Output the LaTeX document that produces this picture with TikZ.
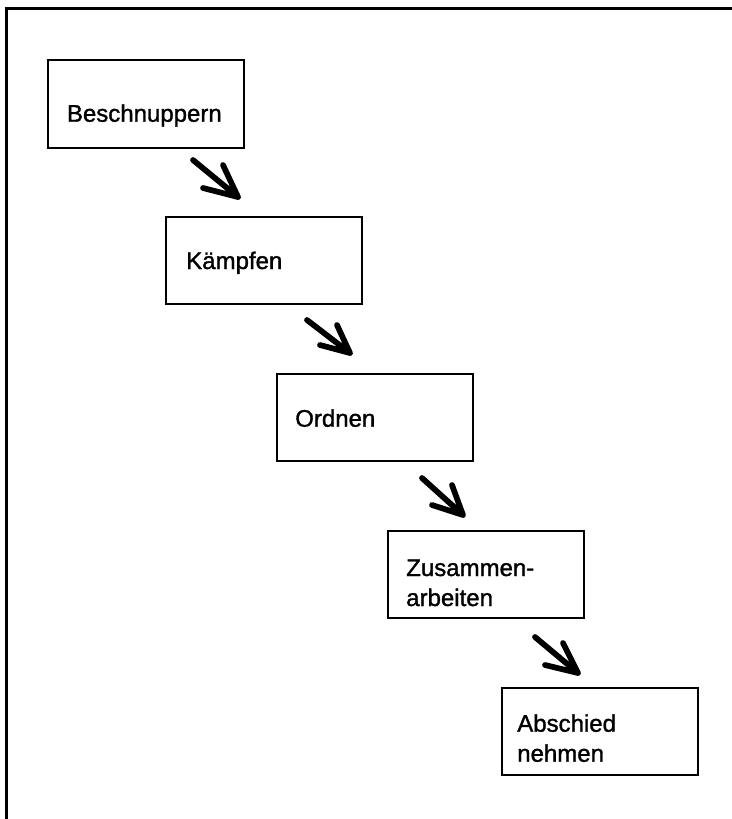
\documentclass[tikz,border=0pt]{standalone}
\usepackage{fontspec}
\setmainfont{Liberation Sans}
\newfontfamily\phasefont{Liberation Sans}[FakeBold=1.3]

\begin{document}
\begin{tikzpicture}[x=0.75pt,y=-0.75pt,
    phase/.style ={draw, line width=1.5pt, minimum width=147pt, minimum height=65.5pt, anchor=north west, inner sep=0pt},
    label/.style ={font=\phasefont\fontsize{18}{22.5}\selectfont, align=left, anchor=base west, inner sep=0pt},
    pfeil/.style ={line width=4.3pt, line cap=round, line join=round}]
   \useasboundingbox (0,0) rectangle (732,819);
   \draw[line width=1.6pt] (6.5,819) -- (6.5,8.5) -- (732,8.5);
   % Phasen
   \node[phase] (B) at (46.7,59.3)  {};
   \node[phase] (K) at (165,216)    {};
   \node[phase] (O) at (275.7,372.7) {};
   \node[phase] (Z) at (386.7,530)  {};
   \node[phase] (A) at (500.7,686.7) {};
   \node[label] (tB) at (66.7,121.7) {Beschnuppern};
   \node[label] (tK) at (186,269)    {Kämpfen};
   \node[label] (tO) at (295,426.7)  {Ordnen};
   \node[label] (tZ) at (406,606)    {Zusammen-\\arbeiten};
   \node[label] (tA) at (517,761.7)  {Abschied\\nehmen};
   % Pfeile
   \coordinate (s1) at (193,160);  \coordinate (p1) at (238,197);
   \coordinate (s2) at (307,320);  \coordinate (p2) at (350,353);
   \coordinate (s3) at (422,478);  \coordinate (p3) at (463,515);
   \coordinate (s4) at (535,637);  \coordinate (p4) at (578,673);
   \draw[pfeil] (s1) -- (p1) -- ++(-15,-32) (p1) -- ++(-35,-9);
   \draw[pfeil] (s2) -- (p2) -- ++(-13,-28) (p2) -- ++(-30,-8);
   \draw[pfeil] (s3) -- (p3) -- ++(-11,-30) (p3) -- ++(-31,-10);
   \draw[pfeil] (s4) -- (p4) -- ++(-15,-30) (p4) -- ++(-33,-8);
 \end{tikzpicture}
\end{document}
